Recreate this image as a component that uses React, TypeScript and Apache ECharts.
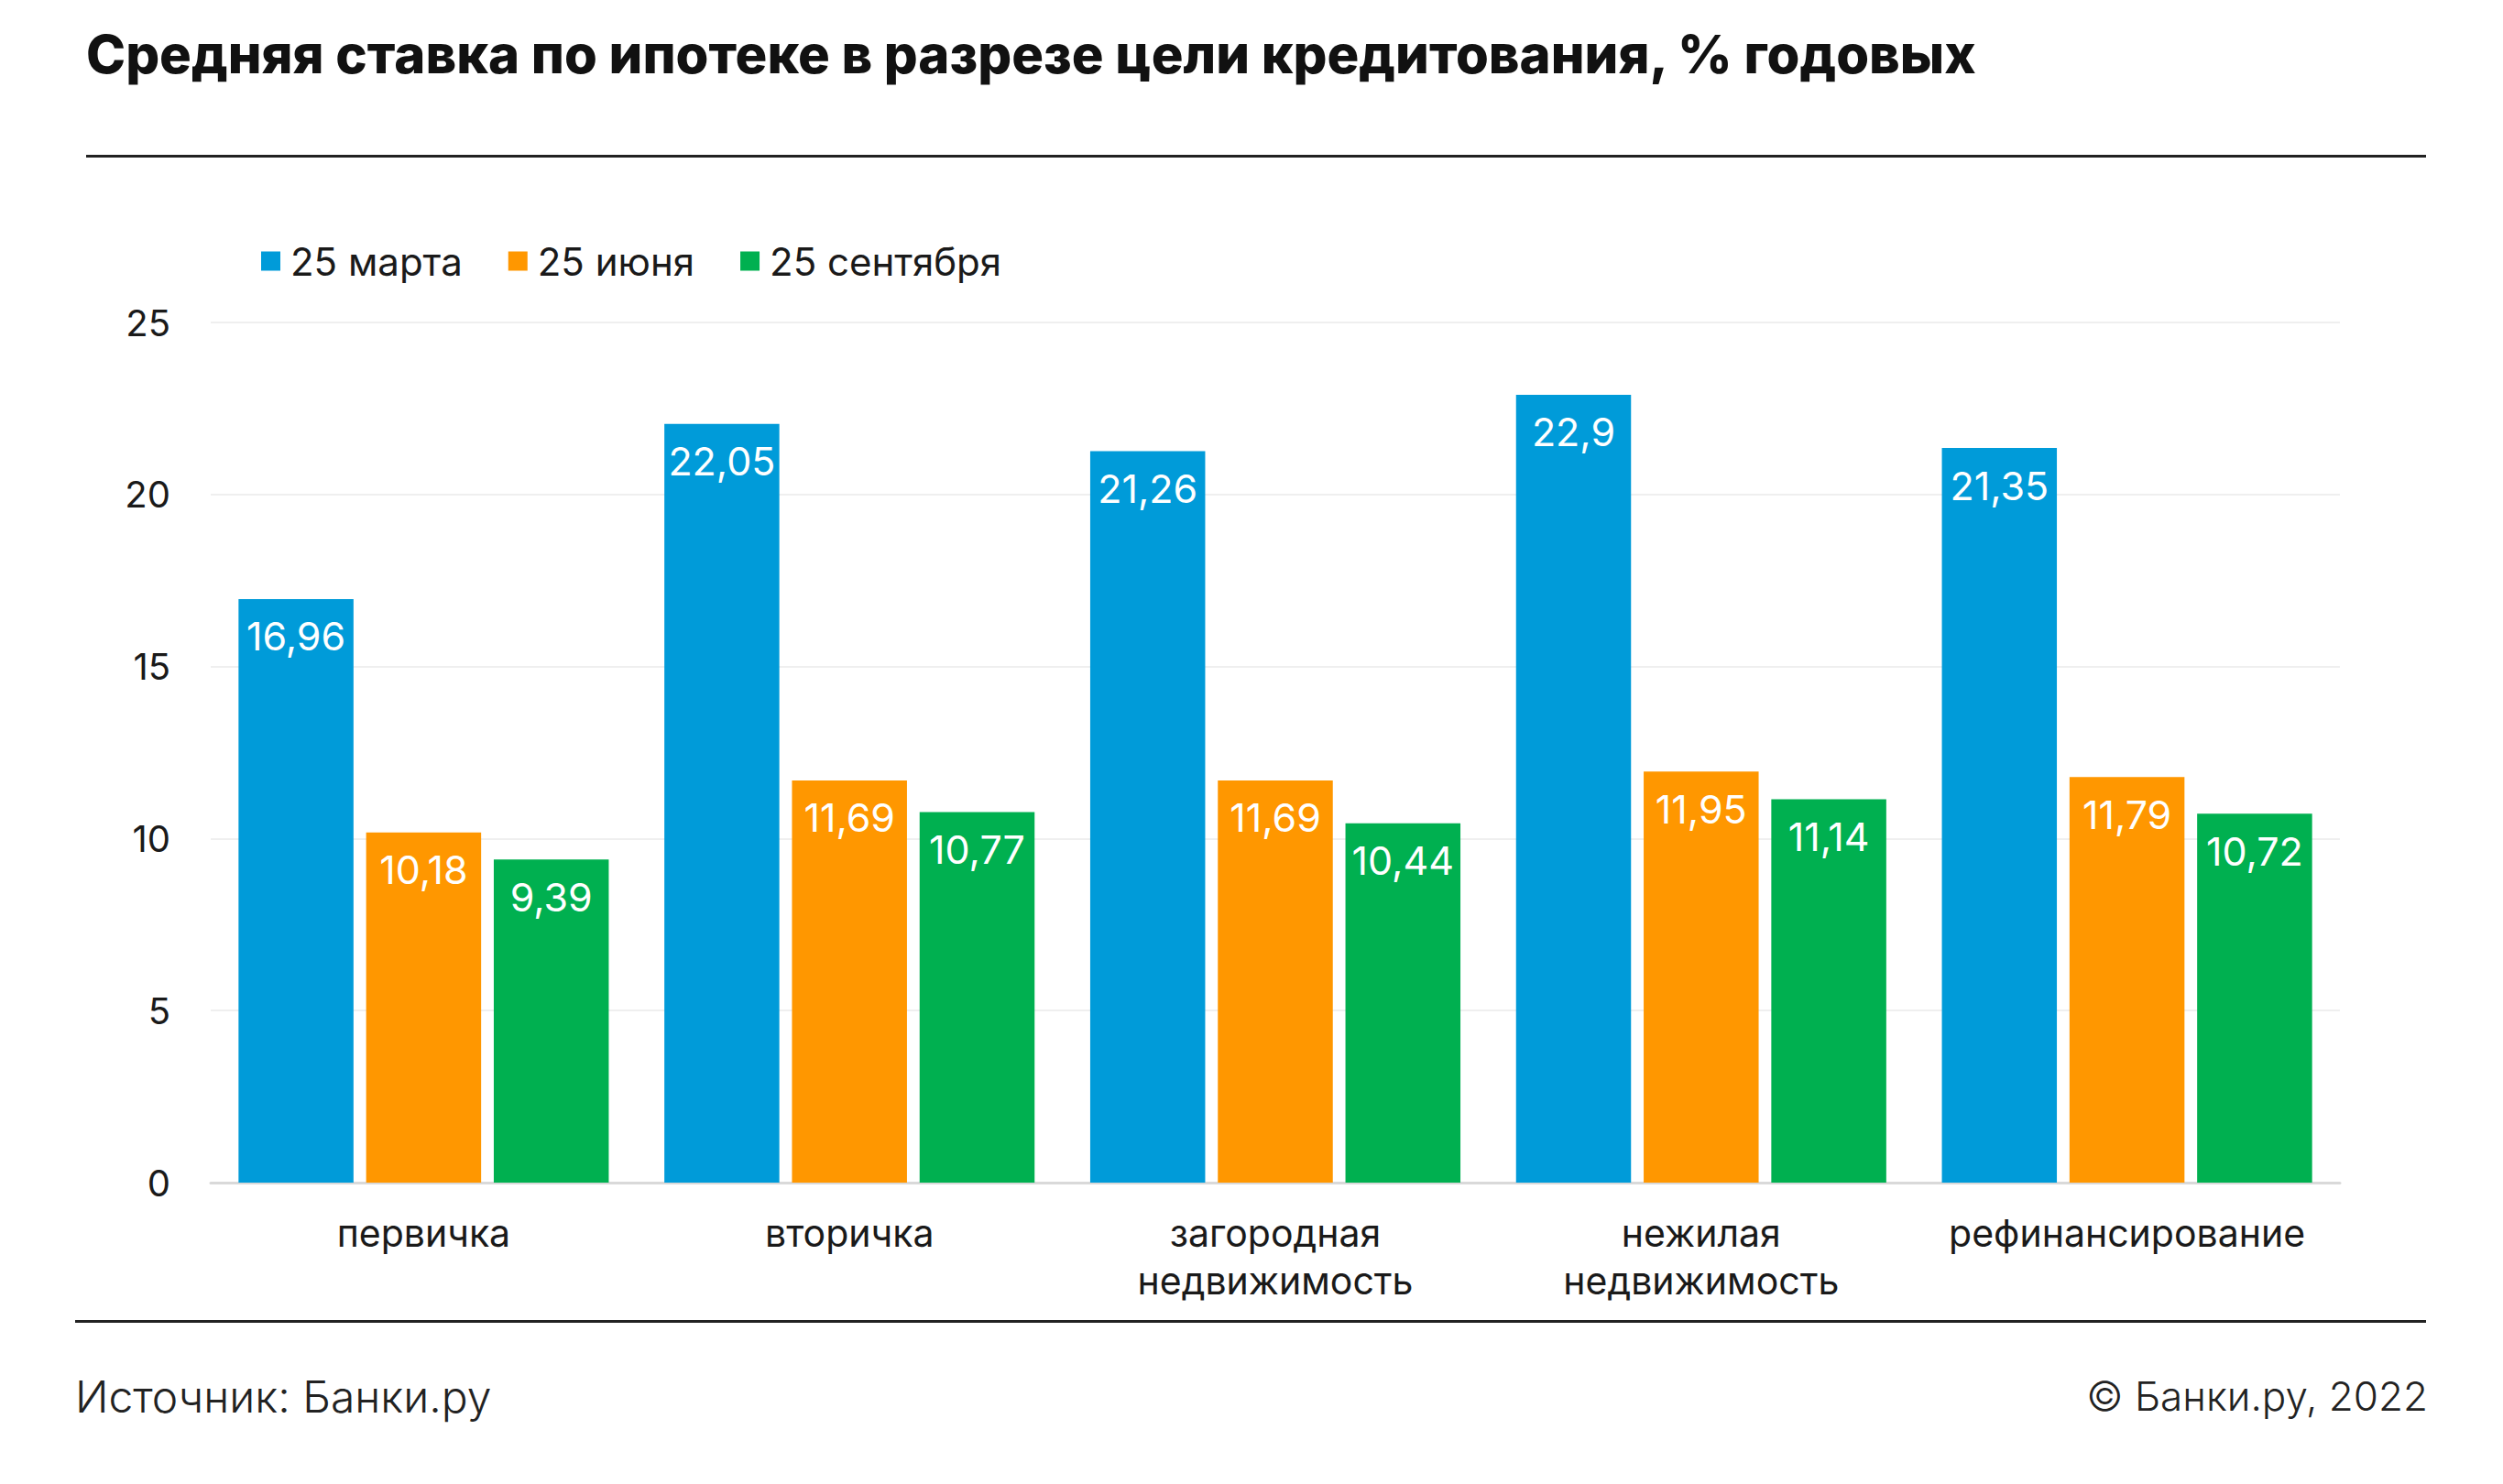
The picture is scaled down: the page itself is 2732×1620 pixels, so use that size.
import React, { useEffect, useRef } from "react";
import * as echarts from "echarts";

const categories = ["первичка", "вторичка", "загородная\nнедвижимость", "нежилая\nнедвижимость", "рефинансирование"];
const seriesNames = ["25 марта", "25 июня", "25 сентября"];
const march = [16.96, 22.05, 21.26, 22.9, 21.35];
const june = [10.18, 11.69, 11.69, 11.95, 11.79];
const september = [9.39, 10.77, 10.44, 11.14, 10.72];
const colors = ["#009BD9", "#FF9700", "#00B050"];
const yTicks = { min: 0, max: 25, interval: 5 };

const title = "Средняя ставка по ипотеке в разрезе цели кредитования, % годовых";
const sourceText = "Источник: Банки.ру";
const copyrightText = "© Банки.ру, 2022";

const FONT = "Inter, 'Noto Sans', sans-serif";

export default function App() {
  const ref = useRef<HTMLDivElement>(null);
  useEffect(() => {
    if (!ref.current) return;
    const chart = echarts.init(ref.current, undefined, { renderer: "svg" });
    const data = [march, june, september];
    chart.setOption({
      animation: false,
      backgroundColor: "#ffffff",
      textStyle: { fontFamily: FONT },
      legend: {
        left: 280,
        top: 259,
        itemWidth: 21,
        itemHeight: 21,
        itemGap: 50,
        icon: "rect",
        textStyle: { fontSize: 42, color: "#1a1a1a", fontFamily: FONT, padding: [0, 0, 0, 6] },
        data: seriesNames,
      },
      grid: { left: 230, right: 178, top: 352, bottom: 329 },
      xAxis: {
        type: "category",
        data: categories,
        axisTick: { show: false },
        axisLine: { lineStyle: { color: "#D9D9D9", width: 3 } },
        axisLabel: {
          fontSize: 41,
          color: "#1a1a1a",
          lineHeight: 52,
          margin: 29,
          fontFamily: FONT,
          interval: 0,
        },
      },
      yAxis: {
        type: "value",
        min: yTicks.min,
        max: yTicks.max,
        interval: yTicks.interval,
        axisLine: { show: false },
        axisTick: { show: false },
        splitLine: { lineStyle: { color: "#EFEFEF", width: 2 } },
        axisLabel: { fontSize: 40, color: "#1a1a1a", margin: 44, fontFamily: FONT },
      },
      series: seriesNames.map((name, i) => ({
        name,
        type: "bar",
        data: data[i],
        barWidth: "27%",
        barGap: "11%",
        itemStyle: { color: colors[i] },
        label: {
          show: true,
          position: "insideTop",
          distance: 19,
          color: "#ffffff",
          fontSize: 43,
          fontFamily: FONT,
          formatter: (p: any) => String(p.value).replace(".", ","),
        },
      })),
      graphic: [
        {
          type: "text",
          left: 94,
          top: 30,
          style: { text: title, fontSize: 58, fontWeight: 800, fill: "#111111", fontFamily: FONT },
        },
        {
          type: "rect",
          shape: { x: 94, y: 169, width: 2554, height: 3 },
          style: { fill: "#222222" },
        },
        {
          type: "rect",
          shape: { x: 82, y: 1441, width: 2566, height: 3 },
          style: { fill: "#222222" },
        },
        {
          type: "text",
          left: 82,
          top: 1500,
          style: { text: sourceText, fontSize: 48, fontWeight: 300, fill: "#222222", fontFamily: FONT },
        },
        {
          type: "text",
          right: 82,
          top: 1502,
          style: { text: copyrightText, fontSize: 44, fontWeight: 300, fill: "#222222", fontFamily: FONT },
        },
      ],
    });
    return () => chart.dispose();
  }, []);
  return <div ref={ref} style={{ position: "fixed", left: 0, top: 0, width: 2732, height: 1620 }} />;
}
